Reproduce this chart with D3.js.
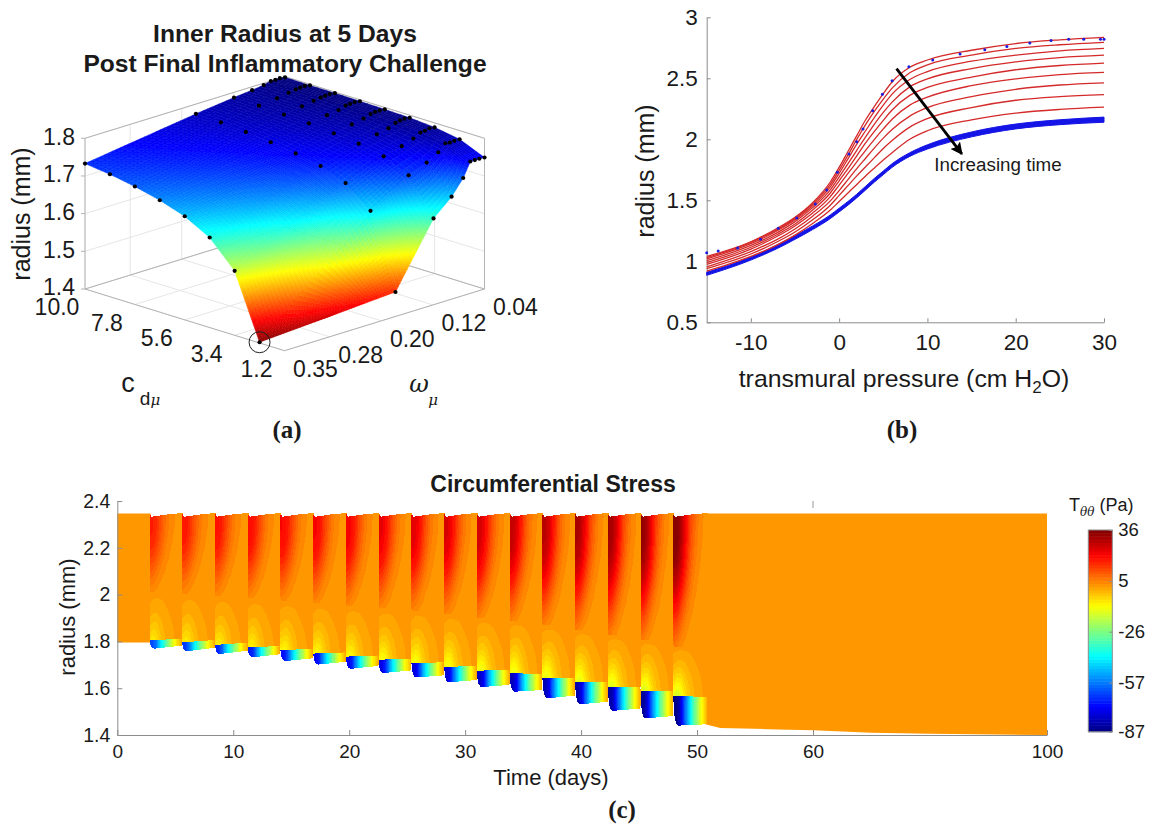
<!DOCTYPE html>
<html>
<head>
<meta charset="utf-8">
<script src="https://cdn.jsdelivr.net/npm/d3@7"></script>
<style>
body { margin: 0; background: #fff; }
svg { display: block; }
text { font-family: "Liberation Sans", Arial, sans-serif; fill: #1a1a1a; }
.caption { font-family: "Liberation Serif", serif; font-weight: bold; font-size: 25px; text-anchor: middle; }
.domain { stroke: #8c8c8c; }
.tick line { stroke: #8c8c8c; }
</style>
</head>
<body>
<div id="chart"></div>
<script>
// ---- panel (a) data, one row per omega, z
const cdValues = [10, 8.9, 7.8, 6.7, 5.6, 4.5, 3.4, 2.3, 1.2];
const omegaValues = [0.35, 0.178, 0.119, 0.091, 0.073, 0.062, 0.055, 0.048, 0.04];
const innerRadius = [
  [1.733, 1.725, 1.713, 1.697, 1.675, 1.639, 1.571, 1.402, null],
  [1.774, 1.772, 1.767, 1.760, 1.751, 1.738, 1.713, 1.660, 1.465],
  [1.786, 1.785, 1.782, 1.779, 1.773, 1.766, 1.753, 1.723, 1.629],
  [1.791, 1.790, 1.789, 1.786, 1.782, 1.776, 1.765, 1.742, 1.672],
  [1.795, 1.795, 1.794, 1.790, 1.788, 1.783, 1.776, 1.760, 1.712],
  [1.800, 1.798, 1.797, 1.796, 1.794, 1.791, 1.786, 1.778, 1.750],
  [1.799, 1.799, 1.798, 1.797, 1.796, 1.794, 1.787, 1.776, 1.750],
  [1.800, 1.800, 1.799, 1.798, 1.796, 1.795, 1.790, 1.777, 1.750],
  [1.798, 1.797, 1.797, 1.796, 1.795, 1.793, 1.788, 1.777, 1.749]
];
const cdTicks = [10, 7.8, 5.6, 3.4, 1.2];
const omegaTicks = [0.35, 0.28, 0.20, 0.12, 0.04];
const zTicks = [1.4, 1.5, 1.6, 1.7, 1.8];

// ---- panel (b) data
const pressure = [-15, -10, -7, -5, -3, -1, 0, 1, 2, 3, 4, 5, 6, 8, 10, 15, 20, 25, 30];
const redCurves = [
  [1.04, 1.16, 1.27, 1.36, 1.48, 1.65, 1.77, 1.90, 2.03, 2.16, 2.27, 2.375, 2.47, 2.59, 2.65, 2.73, 2.785, 2.815, 2.835],
  [1.03, 1.155, 1.26, 1.35, 1.47, 1.63, 1.745, 1.87, 2.00, 2.12, 2.23, 2.33, 2.42, 2.545, 2.61, 2.69, 2.745, 2.775, 2.795],
  [1.02, 1.145, 1.25, 1.34, 1.455, 1.61, 1.72, 1.84, 1.96, 2.07, 2.18, 2.28, 2.37, 2.49, 2.555, 2.64, 2.69, 2.725, 2.745],
  [1.005, 1.13, 1.235, 1.325, 1.44, 1.585, 1.69, 1.80, 1.91, 2.02, 2.125, 2.22, 2.305, 2.43, 2.495, 2.58, 2.635, 2.67, 2.69],
  [0.99, 1.115, 1.22, 1.305, 1.42, 1.56, 1.66, 1.76, 1.865, 1.97, 2.065, 2.155, 2.24, 2.36, 2.425, 2.51, 2.57, 2.605, 2.625],
  [0.975, 1.10, 1.205, 1.29, 1.395, 1.53, 1.625, 1.72, 1.815, 1.91, 2.00, 2.085, 2.165, 2.28, 2.345, 2.44, 2.495, 2.53, 2.548],
  [0.955, 1.08, 1.18, 1.265, 1.37, 1.495, 1.58, 1.67, 1.76, 1.845, 1.93, 2.01, 2.08, 2.19, 2.26, 2.35, 2.41, 2.445, 2.463],
  [0.94, 1.06, 1.16, 1.24, 1.34, 1.46, 1.54, 1.62, 1.70, 1.775, 1.85, 1.925, 1.99, 2.10, 2.17, 2.26, 2.32, 2.35, 2.367],
  [0.92, 1.04, 1.135, 1.215, 1.31, 1.42, 1.49, 1.56, 1.63, 1.70, 1.765, 1.83, 1.89, 2.00, 2.07, 2.16, 2.215, 2.245, 2.263]
];
const blueUpper = [0.91, 1.035, 1.135, 1.21, 1.29, 1.38, 1.435, 1.49, 1.55, 1.615, 1.68, 1.74, 1.80, 1.89, 1.955, 2.06, 2.125, 2.16, 2.182];
const blueLower = [0.885, 1.01, 1.105, 1.18, 1.26, 1.35, 1.405, 1.46, 1.52, 1.585, 1.65, 1.71, 1.77, 1.86, 1.92, 2.02, 2.085, 2.12, 2.14];
const dotPressure = [-15, -13.7, -11.5, -8.9, -6.9, -4.8, -2.7, -1.4, -0.2, 1.1, 2, 2.7, 3.8, 4.9, 6, 7.9, 10.6, 13.7, 16.5, 19, 21.6, 24, 26, 27.7, 29.6, 30];
const dotRadius = [1.07, 1.085, 1.11, 1.18, 1.27, 1.355, 1.47, 1.585, 1.73, 1.88, 1.98, 2.085, 2.235, 2.37, 2.48, 2.595, 2.65, 2.70, 2.735, 2.76, 2.79, 2.81, 2.82, 2.82, 2.82, 2.82];
const arrowPressure = [6.5, 13.9];
const arrowRadius = [2.58, 1.88];

// ---- panel (c) data, one entry per inflammatory cycle
const cycleStart = [2.78, 5.6, 8.43, 11.25, 14.07, 16.9, 19.72, 22.54, 25.37, 28.19, 31.01, 33.84, 36.66, 39.48, 42.31, 45.13, 47.95];
const cycleEnd = [5.6, 8.43, 11.25, 14.07, 16.9, 19.72, 22.54, 25.37, 28.19, 31.01, 33.84, 36.66, 39.48, 42.31, 45.13, 47.95, 50.9];
const stripTopStart = [1.806, 1.796, 1.785, 1.775, 1.762, 1.748, 1.735, 1.722, 1.706, 1.691, 1.675, 1.664, 1.645, 1.628, 1.607, 1.589, 1.568];
const stripTopEnd = [1.810, 1.806, 1.795, 1.780, 1.769, 1.753, 1.740, 1.725, 1.711, 1.695, 1.678, 1.661, 1.645, 1.628, 1.607, 1.587, 1.562];
const stripBottomMin = [1.769, 1.758, 1.746, 1.732, 1.716, 1.701, 1.683, 1.665, 1.646, 1.625, 1.605, 1.585, 1.557, 1.531, 1.503, 1.471, 1.440];
const stripBottomEnd = [1.782, 1.773, 1.760, 1.745, 1.728, 1.713, 1.695, 1.676, 1.655, 1.635, 1.614, 1.592, 1.568, 1.542, 1.513, 1.481, 1.446];
const layerInterface = [2.013, 2.003, 1.994, 1.984, 1.974, 1.963, 1.951, 1.941, 1.931, 1.917, 1.899, 1.889, 1.870, 1.849, 1.827, 1.806, 1.778];
const outerAmp = [15, 16, 17, 18, 18.5, 19, 20, 21, 22, 23, 24, 26, 27, 29, 30, 32, 34];
const middleAmp = [10, 10.5, 11, 11.5, 12, 12.5, 13, 13.5, 14, 14.5, 15, 15.5, 16, 16.5, 17, 17.5, 18];
const stripAmp = [66, 68, 70, 72, 74, 75, 76, 78, 79, 80, 82, 83, 84, 85, 86, 87, 89];

// field templates across one cycle, 0..1 share of the cycle's amp, top row first
const outerField = [
  [1.00, 0.97, 0.85, 0.66, 0.46, 0.29, 0.18, 0.10, 0.05, 0.02, 0],
  [1.00, 0.97, 0.84, 0.64, 0.44, 0.27, 0.16, 0.09, 0.04, 0.015, 0],
  [0.95, 0.90, 0.76, 0.56, 0.37, 0.22, 0.12, 0.06, 0.025, 0.005, 0],
  [0.80, 0.74, 0.60, 0.42, 0.26, 0.14, 0.07, 0.03, 0.01, 0, 0],
  [0.58, 0.52, 0.39, 0.25, 0.14, 0.07, 0.03, 0.01, 0, 0, 0],
  [0.34, 0.29, 0.20, 0.11, 0.05, 0.02, 0.005, 0, 0, 0, 0],
  [0.14, 0.10, 0.05, 0.02, 0, 0, 0, 0, 0, 0, 0]
];
const middleField = [
  [0, 0, 0, 0, 0, 0, 0, 0, 0, 0, 0],
  [0.06, 0.10, 0.11, 0.10, 0.08, 0.05, 0.03, 0.01, 0, 0, 0],
  [0.12, 0.18, 0.19, 0.17, 0.13, 0.09, 0.06, 0.03, 0.01, 0, 0],
  [0.26, 0.34, 0.33, 0.26, 0.19, 0.13, 0.09, 0.06, 0.03, 0, 0],
  [0.42, 0.52, 0.50, 0.37, 0.26, 0.18, 0.12, 0.08, 0.05, 0.01, 0],
  [0.62, 0.76, 0.68, 0.47, 0.32, 0.21, 0.14, 0.10, 0.06, 0.02, 0],
  [0.88, 1.00, 0.85, 0.58, 0.38, 0.24, 0.16, 0.11, 0.07, 0.03, 0]
];
const stripField = [
  [1.00, 0.98, 0.90, 0.75, 0.62, 0.50, 0.37, 0.28, 0.17, 0.10, 0.02],
  [1.00, 0.98, 0.90, 0.75, 0.62, 0.50, 0.37, 0.28, 0.17, 0.10, 0.02]
];
const dipU = [0, 0.03, 0.06, 0.1, 0.2, 0.3, 0.4, 0.5, 0.6, 0.7, 0.8, 1];
const dipShape = [0, 0.6, 1, 0.95, 0.8, 0.65, 0.5, 0.35, 0.2, 0.1, 0.03, 0];
const cornerU = [0, 0.015, 0.03, 0.06, 0.1, 0.15];
const cornerShape = [0, 0.45, 0.65, 0.85, 0.96, 1];
const postDays = [50.7, 52, 57, 60, 70, 80, 100];
const postInner = [1.446, 1.43, 1.424, 1.42, 1.41, 1.405, 1.40];
const outerRadius = 2.347;
const preInner = 1.795;
const baseStress = 2.3;
const dipDepth = 0.014;

const timeTicks = [0, 10, 20, 30, 40, 50, 60, 100];
const cRadiusTicks = [1.4, 1.6, 1.8, 2, 2.2, 2.4];
const stressTicks = [36, 5, -26, -57, -87];

const jetStops = [0, 0.125, 0.375, 0.625, 0.875, 1];
const jetColors = ['#000080', '#0000ff', '#00ffff', '#ffff00', '#ff0000', '#800000'];
const jet = d3.scaleLinear().domain(jetStops).range(jetColors).clamp(true);

const svg = d3.select('#chart').append('svg').attr('width', 1149).attr('height', 824);
const boxGrey = '#b4b4b4';
const defs = svg.append('defs');
defs.append('filter').attr('id', 'soft').attr('x', '-2%').attr('y', '-2%').attr('width', '104%').attr('height', '104%')
  .append('feGaussianBlur').attr('stdDeviation', 0.5);

// ---------------- panel (a)
const panelA = svg.append('g');
const cdX = d3.scaleLinear().domain([10, 1.2]).range([0, 1]);
const omegaX = d3.scaleLinear().domain([0.35, 0.04]).range([0, 1]);
const zY = d3.scaleLinear().domain([1.4, 1.8]).range([0, 150.7]);
const project = (cd, om, z) => {
  let i = cdX(cd), j = omegaX(om);
  return [85 + 199.5 * i + 200 * j, 289 + 61.7 * i - 61.7 * j - zY(z)];
};
const line3 = a => 'M' + a.map(p => project(p[0], p[1], p[2]).join(',')).join('L');
const gridLines = [];
cdTicks.forEach(c => {
  gridLines.push([[c, 0.35, 1.4], [c, 0.04, 1.4]]);
  gridLines.push([[c, 0.04, 1.4], [c, 0.04, 1.8]]);
});
omegaTicks.forEach(o => {
  gridLines.push([[10, o, 1.4], [1.2, o, 1.4]]);
  gridLines.push([[10, o, 1.4], [10, o, 1.8]]);
});
zTicks.forEach(z => {
  gridLines.push([[10, 0.35, z], [10, 0.04, z]]);
  gridLines.push([[10, 0.04, z], [1.2, 0.04, z]]);
});
panelA.append('g').selectAll('path').data(gridLines).join('path')
  .attr('d', line3).attr('stroke', '#e6e6e6').attr('fill', 'none');
const boxLines = [
  [[10, 0.35, 1.4], [1.2, 0.35, 1.4], [1.2, 0.04, 1.4]],
  [[10, 0.35, 1.4], [10, 0.35, 1.8], [10, 0.04, 1.8], [1.2, 0.04, 1.8], [1.2, 0.04, 1.4]],
  [[10, 0.35, 1.4], [10, 0.04, 1.4], [1.2, 0.04, 1.4]]
];
panelA.append('g').selectAll('path').data(boxLines).join('path')
  .attr('d', line3).attr('stroke', boxGrey).attr('fill', 'none');

// fine quads of the surface, coloured by height
const zColor = z => jet(d3.scaleLinear().domain([1.8, 1.4]).range([0, 1])(z));
const quads = [];
for (let j = 0; j < omegaValues.length - 1; j++) {
  for (let k = 0; k < cdValues.length - 1; k++) {
    let a = [cdValues[k], omegaValues[j], innerRadius[j][k]];
    let b = [cdValues[k + 1], omegaValues[j], innerRadius[j][k + 1]];
    let c = [cdValues[k + 1], omegaValues[j + 1], innerRadius[j + 1][k + 1]];
    let d = [cdValues[k], omegaValues[j + 1], innerRadius[j + 1][k]];
    if (b[2] === null) b = a.map((v, n) => (v + c[n]) / 2);
    let pa = project(...a);
    let ni = 3, nj = Math.max(2, Math.ceil(Math.abs(project(...d)[0] - pa[0]) / 4));
    let dz = Math.abs(a[2] - d[2]) + Math.abs(b[2] - c[2]) + Math.abs(a[2] - b[2]);
    ni = Math.max(ni, Math.ceil(dz * 60));
    nj = Math.max(nj, Math.ceil(dz * 60));
    const at = (s, t) => [0, 1, 2].map(n => (a[n] * (1 - s) + b[n] * s) * (1 - t) + (d[n] * (1 - s) + c[n] * s) * t);
    for (let s = 0; s < ni; s++) for (let t = 0; t < nj; t++) {
      let cs = [at(s / ni, t / nj), at((s + 1) / ni, t / nj), at((s + 1) / ni, (t + 1) / nj), at(s / ni, (t + 1) / nj)];
      quads.push({ pts: cs.map(p => project(...p)), z: d3.mean(cs, p => p[2]) });
    }
  }
}
panelA.append('g').attr('filter', 'url(#soft)').selectAll('polygon').data(quads).join('polygon')
  .attr('points', q => q.pts.map(p => p.join(',')).join(' '))
  .attr('fill', q => zColor(q.z)).attr('stroke', q => zColor(q.z)).attr('stroke-width', 0.5);

const surfaceDots = [];
innerRadius.forEach((row, j) => row.forEach((z, k) => {
  if (z !== null) surfaceDots.push(project(cdValues[k], omegaValues[j], z));
}));
panelA.append('g').selectAll('circle').data(surfaceDots).join('circle')
  .attr('cx', d => d[0]).attr('cy', d => d[1]).attr('r', 2.1).attr('fill', '#000');
let circled = project(2.3, 0.35, 1.402);
panelA.append('circle').attr('cx', circled[0]).attr('cy', circled[1]).attr('r', 10.5)
  .attr('fill', 'none').attr('stroke', '#222').attr('stroke-width', 1);

// tick stubs and labels of the 3d axes
zTicks.forEach(z => {
  let p = project(10, 0.35, z);
  panelA.append('line').attr('x1', p[0] - 4).attr('x2', p[0]).attr('y1', p[1]).attr('y2', p[1]).attr('stroke', boxGrey);
  panelA.append('text').attr('x', 75).attr('y', p[1] - 2).attr('dy', '0.36em').attr('text-anchor', 'end')
    .attr('font-size', 23).text(d3.format('.1f')(z));
});
cdTicks.forEach(c => {
  let p = project(c, 0.35, 1.4);
  panelA.append('text').attr('x', p[0] - 28).attr('y', p[1] + 18).attr('dy', '0.36em').attr('text-anchor', 'middle')
    .attr('font-size', 23).text(d3.format('.1f')(c));
});
omegaTicks.forEach(o => {
  let p = project(1.2, o, 1.4);
  panelA.append('text').attr('x', p[0] + 31).attr('y', p[1] + 18).attr('dy', '0.36em').attr('text-anchor', 'middle')
    .attr('font-size', 23).text(d3.format('.2f')(o));
});
panelA.append('text').attr('transform', 'translate(21,214) rotate(-90)').attr('dy', '0.36em').attr('text-anchor', 'middle')
  .attr('font-size', 25).text('radius (mm)');
panelA.append('text').attr('x', 128).attr('y', 392).attr('text-anchor', 'middle').attr('font-size', 27).text('c');
panelA.append('text').attr('x', 150).attr('y', 405).attr('text-anchor', 'middle').attr('font-size', 19)
  .html('d<tspan style="font-family:\'DejaVu Serif\'" font-style="italic" font-size="15">μ</tspan>');
panelA.append('text').attr('x', 419).attr('y', 392).attr('text-anchor', 'middle').attr('font-size', 24)
  .attr('font-style', 'italic').style('font-family', 'DejaVu Serif').text('ω');
panelA.append('text').attr('x', 433).attr('y', 405).attr('text-anchor', 'middle').attr('font-size', 15)
  .style('font-family', 'DejaVu Serif').attr('font-style', 'italic').text('μ');
['Inner Radius at 5 Days', 'Post Final Inflammatory Challenge'].forEach((t, i) => {
  panelA.append('text').attr('x', 285).attr('y', 33 + i * 30).attr('dy', '0.36em').attr('text-anchor', 'middle')
    .attr('font-size', 24.6).attr('font-weight', 'bold').text(t);
});
svg.append('text').attr('class', 'caption').attr('x', 287).attr('y', 438).text('(a)');

// ---------------- panel (b)
const panelB = svg.append('g');
const xB = d3.scaleLinear().domain([-15, 30]).range([706.7, 1104]);
const yB = d3.scaleLinear().domain([0.5, 3]).range([322.3, 17.3]);
const axisBx = d3.axisBottom(xB).tickValues([-10, 0, 10, 20, 30]).tickSizeInner(-4).tickSizeOuter(0).tickPadding(12).tickFormat(d => d);
const axisBy = d3.axisLeft(yB).tickValues([0.5, 1, 1.5, 2, 2.5, 3]).tickSizeInner(-4).tickSizeOuter(0).tickPadding(9).tickFormat(d => d);
panelB.append('g').attr('transform', 'translate(0,322.3)').call(axisBx).call(g => g.selectAll('text').attr('font-size', 22.5));
panelB.append('g').attr('transform', 'translate(706.7,0)').call(axisBy).call(g => g.selectAll('text').attr('font-size', 22.5));
const lineB = d3.line().x((d, i) => xB(pressure[i])).y(d => yB(d)).curve(d3.curveMonotoneX);
const bandB = d3.area().x((d, i) => xB(pressure[i])).y0(d => yB(d[0])).y1(d => yB(d[1])).curve(d3.curveMonotoneX);
panelB.append('path').attr('d', bandB(blueLower.map((v, i) => [v, blueUpper[i]])))
  .attr('fill', '#1414e6').attr('stroke', '#1414e6').attr('stroke-width', 1);
panelB.append('g').selectAll('path').data(redCurves).join('path')
  .attr('d', lineB).attr('fill', 'none').attr('stroke', '#d42a2a').attr('stroke-width', 1.3);
panelB.append('g').selectAll('circle').data(dotPressure).join('circle')
  .attr('cx', d => xB(d)).attr('cy', (d, i) => yB(dotRadius[i])).attr('r', 1.5).attr('fill', '#1a1ae0');
defs.append('marker').attr('id', 'head').attr('viewBox', '0 0 10 10').attr('refX', 9).attr('refY', 5)
  .attr('markerWidth', 4.4).attr('markerHeight', 4.4).attr('orient', 'auto')
  .append('path').attr('d', 'M0,0L10,5L0,10L2,5Z').attr('fill', '#000');
panelB.append('line').attr('x1', xB(arrowPressure[0])).attr('y1', yB(arrowRadius[0]))
  .attr('x2', xB(arrowPressure[1])).attr('y2', yB(arrowRadius[1]))
  .attr('stroke', '#000').attr('stroke-width', 2.8).attr('marker-end', 'url(#head)');
panelB.append('text').attr('x', 998).attr('y', 164).attr('dy', '0.36em').attr('text-anchor', 'middle').attr('font-size', 18.8).text('Increasing time');
panelB.append('text').attr('transform', 'translate(645,171) rotate(-90)').attr('dy', '0.36em').attr('text-anchor', 'middle')
  .attr('font-size', 25).text('radius (mm)');
panelB.append('text').attr('x', 904).attr('y', 378).attr('dy', '0.36em').attr('text-anchor', 'middle').attr('font-size', 24.8)
  .html('transmural pressure (cm H<tspan dy="6" font-size="17">2</tspan><tspan dy="-6">O)</tspan>');
svg.append('text').attr('class', 'caption').attr('x', 902).attr('y', 438).text('(b)');

// ---------------- panel (c)
const panelC = svg.append('g');
const xC = d3.scaleLinear().domain([0, 60, 100]).range([117.3, 813, 1047]);
const yC = d3.scaleLinear().domain([1.4, 2.4]).range([735, 501]);
const levelStep = 123 / 64;
const levels = d3.range(64).map(i => -87 + i * levelStep);
const stressT = d3.scaleLinear().domain([-87, 36]).range([0, 1]);
const bandColor = s => jet(stressT(s));
const baseColor = bandColor(levels[Math.floor((baseStress + 87) / levelStep)] + levelStep / 2);

const field = panelC.append('g').attr('filter', 'url(#soft)');
const wallArea = d3.area().x(d => xC(d[0])).y0(d => yC(d[1])).y1(yC(outerRadius));
field.append('path').attr('d', wallArea([[0, preInner], [cycleStart[0] + 0.1, preInner]])).attr('fill', baseColor);
field.append('path').attr('d', wallArea(postDays.map((d, i) => [d, postInner[i]]))).attr('fill', baseColor);

const upsample = (rows, fx, fy) => {
  let nx = (rows[0].length - 1) * fx + 1, ny = (rows.length - 1) * fy + 1, out = new Array(nx * ny);
  for (let y = 0; y < ny; y++) for (let x = 0; x < nx; x++) {
    let gx = x / fx, gy = y / fy, x0 = Math.min(Math.floor(gx), rows[0].length - 2), y0 = Math.min(Math.floor(gy), rows.length - 2);
    let sx = gx - x0, sy = gy - y0;
    out[y * nx + x] = (rows[y0][x0] * (1 - sx) + rows[y0][x0 + 1] * sx) * (1 - sy) + (rows[y0 + 1][x0] * (1 - sx) + rows[y0 + 1][x0 + 1] * sx) * sy;
  }
  return { values: out, nx, ny };
};
const outerGrid = upsample(outerField, 4, 4);
const middleGrid = upsample(middleField, 4, 4);
const stripGrid = upsample(stripField, 6, 2);
const dip = d3.scaleLinear().domain(dipU).range(dipShape);
const corner = d3.scaleLinear().domain(cornerU).range(cornerShape).clamp(true);

function drawLayer(group, grid, stress, i, lower, upper, overlap) {
  let x0 = xC(cycleStart[i]), x1 = xC(cycleEnd[i] + overlap);
  let path = d3.geoPath(d3.geoTransform({
    point(x, y) {
      let u = x / grid.nx, v = 1 - y / grid.ny;
      this.stream.point(x0 + u * (x1 - x0), yC(lower(u) + v * (upper(u) - lower(u))));
    }
  }));
  let values = grid.values.map(stress);
  let contours = d3.contours().size([grid.nx, grid.ny]).thresholds(levels)(values);
  group.selectAll(null).data(contours.filter(c => c.coordinates.length)).join('path')
    .attr('d', path).attr('fill', c => bandColor(c.value + levelStep / 2)).attr('shape-rendering', 'crispEdges');
}

cycleStart.forEach((start, i) => {
  let g = field.append('g');
  let stripTop = u => stripTopStart[i] + u * (stripTopEnd[i] - stripTopStart[i]);
  let stripBottom = u => u < 0.15
    ? stripTopStart[i] + corner(u) * (stripBottomMin[i] - stripTopStart[i])
    : stripBottomMin[i] + (u - 0.15) / 0.85 * (stripBottomEnd[i] - stripBottomMin[i]);
  drawLayer(g, middleGrid, v => baseStress - middleAmp[i] * v, i, u => stripTop(u) - 0.004, () => layerInterface[i] + 0.004, 0.1);
  drawLayer(g, outerGrid, v => baseStress + outerAmp[i] * v, i, () => layerInterface[i], u => outerRadius - dipDepth * dip(u), 0.1);
  drawLayer(g, stripGrid, v => baseStress - stripAmp[i] * v, i, stripBottom, stripTop, 0);
});

const axisCx = d3.axisBottom(xC).tickValues(timeTicks).tickSizeInner(-5).tickSizeOuter(0).tickPadding(10).tickFormat(d => d);
const axisCy = d3.axisLeft(yC).tickValues(cRadiusTicks).tickSizeInner(-5).tickSizeOuter(0).tickPadding(7).tickFormat(d => d);
panelC.append('g').attr('transform', 'translate(0,735)').call(axisCx).call(g => g.selectAll('text').attr('font-size', 19));
panelC.append('g').attr('transform', 'translate(117.3,0)').call(axisCy).call(g => g.selectAll('text').attr('font-size', 19.5));
panelC.append('line').attr('x1', xC(60)).attr('x2', xC(60)).attr('y1', 501).attr('y2', 508).attr('stroke', '#999');
panelC.append('text').attr('x', 553).attr('y', 484).attr('dy', '0.36em').attr('text-anchor', 'middle')
  .attr('font-size', 23).attr('font-weight', 'bold').text('Circumferential Stress');
panelC.append('text').attr('transform', 'translate(67,617) rotate(-90)').attr('dy', '0.36em').attr('text-anchor', 'middle')
  .attr('font-size', 22).text('radius (mm)');
panelC.append('text').attr('x', 551).attr('y', 777).attr('dy', '0.36em').attr('text-anchor', 'middle')
  .attr('font-size', 22).text('Time (days)');
svg.append('text').attr('class', 'caption').attr('x', 622).attr('y', 818).text('(c)');

// colour bar
const yBar = d3.scaleLinear().domain([-87, 36]).range([731.7, 530]);
panelC.append('g').selectAll('rect').data(levels).join('rect')
  .attr('x', 1088.3).attr('width', 24).attr('y', d => yBar(d + levelStep)).attr('height', yBar(0) - yBar(levelStep) + 0.5)
  .attr('fill', d => bandColor(d + levelStep / 2));
panelC.append('rect').attr('x', 1088.3).attr('y', 530).attr('width', 24).attr('height', 201.7)
  .attr('fill', 'none').attr('stroke', '#8c8c8c');
panelC.append('g').attr('transform', 'translate(1112.3,0)')
  .call(d3.axisRight(yBar).tickValues(stressTicks).tickSizeInner(-3).tickSizeOuter(0).tickPadding(6).tickFormat(d => d))
  .call(g => g.select('.domain').remove())
  .call(g => g.selectAll('text').attr('font-size', 18.5));
panelC.append('text').attr('x', 1069).attr('y', 511).attr('font-size', 18)
  .html('T<tspan dy="5" font-size="12" font-style="italic" style="font-family:\'DejaVu Serif\'">θθ</tspan><tspan dy="-5"> (Pa)</tspan>');
</script>
</body>
</html>
